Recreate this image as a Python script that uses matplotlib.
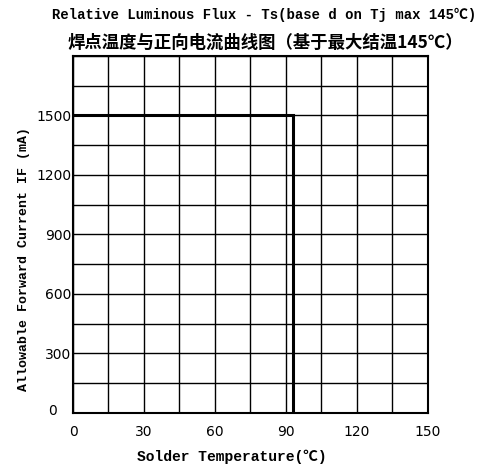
import matplotlib
matplotlib.use("Agg")
import matplotlib.pyplot as plt
import matplotlib.transforms as mtransforms

# derating curve: solder temperature vs allowable forward current
temp = [0, 93, 93]
current = [1500, 1500, 0]

x_ticks = [0, 30, 60, 90, 120, 150]
y_ticks = [0, 300, 600, 900, 1200, 1500]
x_grid = list(range(0, 151, 15))
y_grid = list(range(0, 1801, 150))

mono = ['Liberation Mono', 'Noto Sans CJK SC']
cjk = ['Noto Sans CJK SC', 'DejaVu Sans']

fig = plt.figure(figsize=(4.89, 4.70), dpi=100)
ax = fig.add_axes([0.1493, 0.1213, 0.7257, 0.7597])

ax.plot(temp, current, color='black', lw=2.2, solid_joinstyle='miter', zorder=3)

ax.set_xlim(0, 150)
ax.set_ylim(0, 1800)
ax.set_xticks(x_ticks)
ax.set_yticks(y_ticks)
ax.set_xticks(x_grid, minor=True)
ax.set_yticks(y_grid, minor=True)
ax.grid(which='both', color='black', lw=1.0)
ax.tick_params(which='both', length=0)
ax.tick_params(axis='x', pad=9, labelsize=10)
ax.tick_params(axis='y', pad=1, labelsize=10)
for s in ax.spines.values():
    s.set_linewidth(1.5)

# the "0" label on y sits left of the others in the original
fig.canvas.draw()
lab0 = ax.get_yticklabels()[0]
lab0.set_transform(lab0.get_transform() + mtransforms.ScaledTranslation(-0.15, 0.03, fig.dpi_scale_trans))

ax.set_xlabel('Solder Temperature(℃)', family=mono, fontweight='bold', fontsize=10.5)
ax.xaxis.set_label_coords(0.448, -0.104)
ax.set_ylabel('Allowable Forward Current IF (mA)', family=mono, fontweight='bold', fontsize=9.5)
ax.yaxis.set_label_coords(-0.122, 0.43)

fig.text(0.54, 0.968, 'Relative Luminous Flux - Ts(base d on Tj max 145℃)',
         family=mono, fontweight='bold', fontsize=10, ha='center', va='center')
fig.text(0.543, 0.908, '焊点温度与正向电流曲线图（基于最大结温145℃）',
         family=cjk, fontweight='bold', fontsize=12.5, ha='center', va='center')

fig.savefig('out.png', dpi=100)
